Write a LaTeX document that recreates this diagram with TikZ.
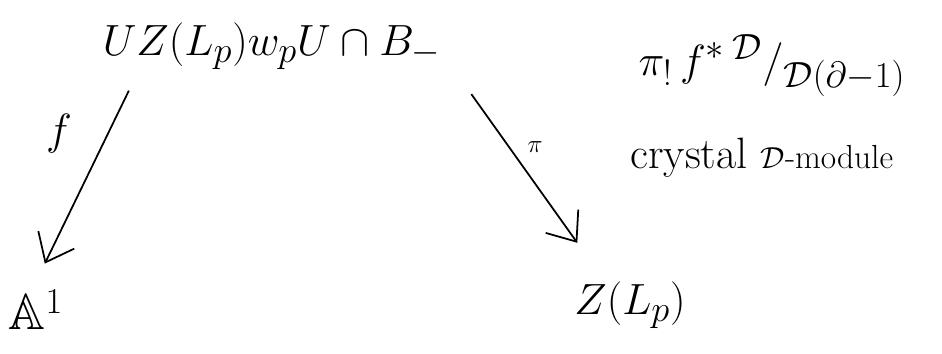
\documentclass[tikz,border=0pt]{standalone}
\usepackage{amsmath,amssymb}
\usetikzlibrary{arrows.meta}

\tikzset{
  bigmath/.style={font=\fontsize{29}{36}\selectfont, inner sep=0pt},
  midmath/.style={font=\fontsize{29}{34}\selectfont, inner sep=0pt},
  mapto/.style={-{Straight Barb[length=5mm,width=8mm]}, line width=1pt},
}

\begin{document}
\begin{tikzpicture}[x=0.02cm, y=-0.02cm]
        \useasboundingbox (0,0) rectangle (942,353);
        % top row
        \node[bigmath] (src) at (272,46) {$UZ(L_p)w_pU\cap B_-$};
        \node[bigmath] (aone) at (36,310) {$\mathbb{A}^1$};
        \node[bigmath] (zlp) at (630,305) {$Z(L_p)$};
        % the module on the right
        \node[midmath] (sheaf) at (772,66)
              {$\pi_!\,f^*\,{}^{\mathcal{D}}/{}_{\mathcal{D}(\partial-1)}$};
        \node[font=\fontsize{25}{30}\selectfont, inner sep=0pt, anchor=west]
              (crys) at (630,158)
              {crystal {\fontsize{19}{24}\selectfont$\mathcal{D}$-module}};
        % maps
        \draw[mapto] ([xshift=15pt, yshift=-12pt]src.south west)
              -- ([xshift=5pt, yshift=15pt]aone.north)
              node[pos=0.25, left=20pt, bigmath]{$f$};
        \draw[mapto] ([xshift=17pt, yshift=-14pt]src.south east)
              -- ([xshift=-30pt, yshift=22pt]zlp.north)
              node[pos=0.45, above right=1pt, font=\Large]{$\pi$};
      \end{tikzpicture}
\end{document}
